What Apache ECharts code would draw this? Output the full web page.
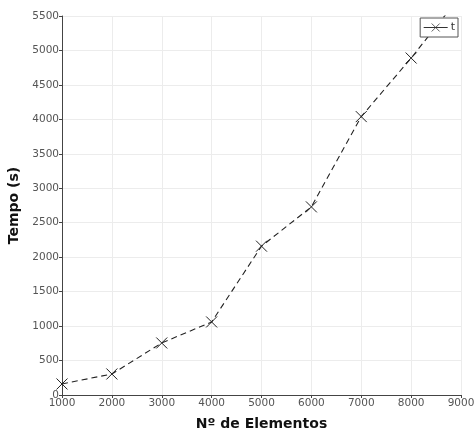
<!DOCTYPE html>
<html><head><meta charset="utf-8">
<script src="https://cdn.jsdelivr.net/npm/echarts@6/dist/echarts.min.js"></script>
<style>html,body{margin:0;padding:0;background:#fff}#c{width:474px;height:433px}</style>
</head><body><div id="c"></div>
<script>
const xValues = [1000, 2000, 3000, 4000, 5000, 6000, 7000, 8000, 9000];
const tValues = [160, 305, 755, 1060, 2160, 2730, 4040, 4890, 5800];
const seriesName = 't';
const xTitle = 'Nº de Elementos';
const yTitle = 'Tempo (s)';

const chart = echarts.init(document.getElementById('c'), null, {renderer: 'canvas'});
const font = '"DejaVu Sans", sans-serif';
chart.setOption({
  animation: false,
  backgroundColor: '#fff',
  grid: {left: 62, right: 13, top: 16, bottom: 38, containLabel: false, outerBoundsMode: 'none'},
  legend: {
    right: 16, top: 18, orient: 'vertical', z: 10,
    padding: [3, 3, 3, 3],
    backgroundColor: '#fff',
    borderColor: '#555', borderWidth: 1, borderRadius: 0,
    itemWidth: 24, itemHeight: 10, itemGap: 2,
    itemStyle: {color: 'none', borderColor: '#333', borderWidth: 0.8},
    lineStyle: {color: '#333', width: 1, type: 'solid'},
    textStyle: {fontFamily: font, fontSize: 11, color: '#333', padding: [0, 0, 0, -2]},
    data: [seriesName]
  },
  xAxis: {
    type: 'value', min: 1000, max: 9000, interval: 1000,
    name: xTitle, nameLocation: 'middle', nameGap: 22,
    nameTextStyle: {fontFamily: font, fontWeight: 'bold', fontSize: 14, color: '#111'},
    axisLine: {lineStyle: {color: '#444', width: 1}},
    axisTick: {show: true, length: 3, lineStyle: {color: '#444'}},
    axisLabel: {fontFamily: font, fontSize: 10.5, color: '#555', margin: 3, formatter: v => String(v)},
    splitLine: {show: true, lineStyle: {color: '#ececec'}}
  },
  yAxis: {
    type: 'value', min: 0, max: 5500, interval: 500,
    name: yTitle, nameLocation: 'middle', nameGap: 37, nameRotate: 90,
    nameTextStyle: {fontFamily: font, fontWeight: 'bold', fontSize: 14, color: '#111'},
    axisLine: {show: true, lineStyle: {color: '#444', width: 1}},
    axisTick: {show: true, length: 3, lineStyle: {color: '#444'}},
    axisLabel: {fontFamily: font, fontSize: 10.5, color: '#555', margin: 3, formatter: v => String(v)},
    splitLine: {show: true, lineStyle: {color: '#ececec'}}
  },
  series: [{
    name: seriesName, type: 'line', clip: true, z: 2,
    data: xValues.map((x, i) => [x, tValues[i]]),
    symbol: 'path://M0,0L10,10M10,0L0,10', symbolSize: 11,
    itemStyle: {color: 'none', borderColor: '#222', borderWidth: 1},
    lineStyle: {color: '#222', width: 1.1, type: [6, 4]}
  }]
});
</script></body></html>
